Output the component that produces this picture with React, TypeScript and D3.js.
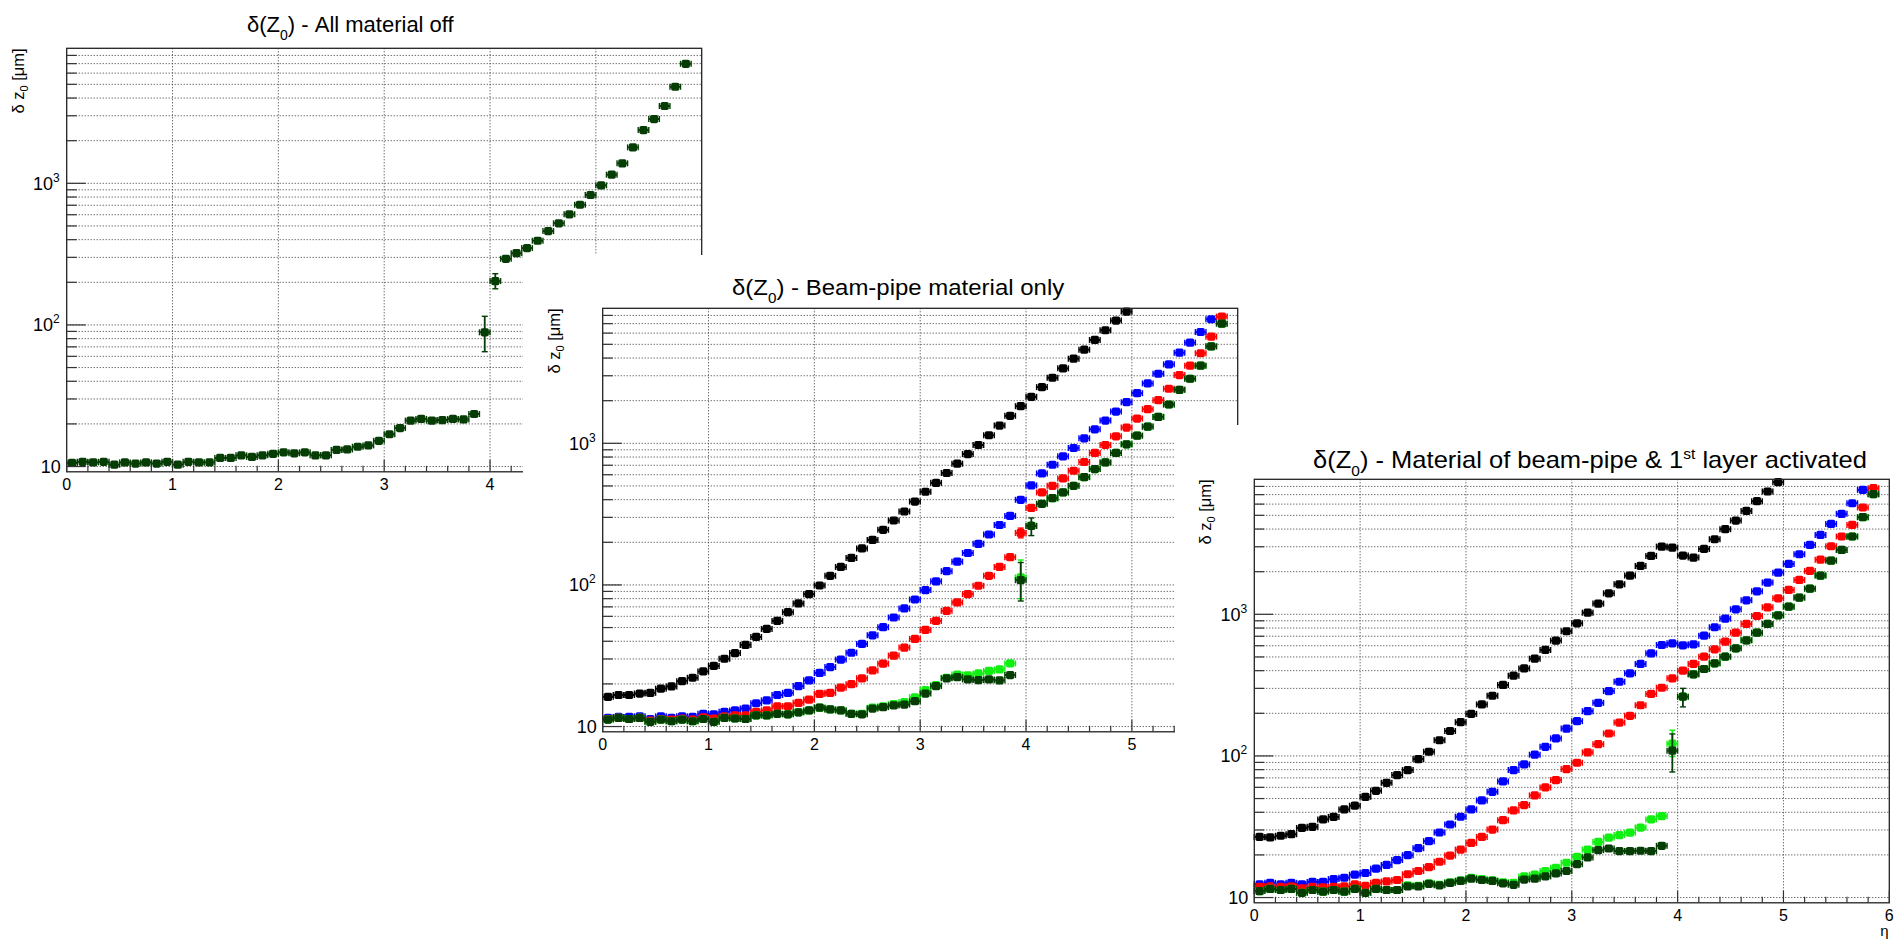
import React from 'react';
import * as d3 from 'd3';

// ---- data (bin centres in eta) ----
const ETA = [0.05,0.15,0.25,0.35,0.45,0.55,0.65,0.75,0.85,0.95,1.05,1.15,1.25,1.35,1.45,1.55,1.65,1.75,1.85,1.95,2.05,2.15,2.25,2.35,2.45,2.55,2.65,2.75,2.85,2.95,3.05,3.15,3.25,3.35,3.45,3.55,3.65,3.75,3.85,3.95,4.05,4.15,4.25,4.35,4.45,4.55,4.65,4.75,4.85,4.95,5.05,5.15,5.25,5.35,5.45,5.55,5.65,5.75,5.85];
const X_TICK_LABELS = ['0','1','2','3','4','5','6'];

// Panel 1 – all material off
const P1_DKGREEN = [10.6,10.8,10.7,10.8,10.3,10.7,10.5,10.7,10.5,10.8, 10.3,10.8,10.7,10.7,11.5,11.5,12.0,11.7,12.0,12.3, 12.6,12.4,12.6,12.0,12.0,13.1,13.2,13.8,14.1,15.2, 16.9,18.7,21.1,21.7,21.1,21.3,21.7,21.5,23.5,88.7, 204,293,321,349,393,460,522,604,706,827, 968,1151,1384,1795,2377,2843,3516,4806,6984];
const P1_DKGREEN_ERR: [number, number, number][] = [[39, 64.7, 115], [40, 180, 230]];

// Panel 2 – beam-pipe material only
const P2_BLACK = [16.2,16.7,16.7,17.1,17.3,18.5,19.2,20.9,22.1,24.5, 26.8,30.1,33.0,37.7,42.9,48.9,55.7,64.2,74.0,86.1, 99.1,116,134,155,181,208,245,285,330,388, 455,526,617,718,840,973,1140,1335,1564,1830, 2130,2494,2904,3383,3958,4582,5370,6287,7362,8517];
const P2_BLUE = [11.5,11.7,11.7,11.8,11.3,11.8,11.5,11.8,11.7,12.3, 12.2,12.7,13.0,13.4,14.6,15.3,16.7,17.3,19.3,21.2, 23.9,26.3,29.7,33.2,38.3,44.1,50.3,58.9,68.2,78.9, 91.9,106,125,146,168,195,227,265,307,399, 504,613,706,809,927,1085,1256,1448,1676,1951, 2260,2648,3100,3610,4365,5140,6112,7520];
const P2_RED = [11.3,11.5,11.3,11.5,11.0,11.3,11.2,11.4,11.2,11.6, 11.4,11.8,12.0,12.0,12.7,13.0,13.9,13.9,14.7,15.5, 17.0,17.3,18.8,19.9,21.9,24.9,27.8,31.7,36.1,41.6, 48.1,55.7,65.6,75.2,86.1,98.7,116,134,157,233, 350,450,501,565,640,738,855,973,1121,1292, 1496,1742,2018,2429,3035,3535,4325,5665,7850];
const P2_RED_ERR: [number, number, number][] = [[39, 215, 252]];
const P2_GREEN = [11.2,11.5,11.3,11.5,10.8,11.2,10.9,11.2,10.9,11.3, 10.8,11.5,11.4,11.3,12.0,12.0,12.3,12.2,12.6,13.0, 13.6,13.2,13.0,12.3,12.3,13.6,13.9,14.4,14.9,16.1, 18.1,19.6,22.1,23.3,23.0,23.7,24.7,25.3,27.9,113, 262,374,410,450,501,577,658,733,855,984, 1133,1312,1537,1880,2388,2858,3535,4840,7000];
const P2_GREEN_ERR: [number, number, number][] = [[39, 80, 150]];
const P2_DKGREEN = [11.2,11.5,11.3,11.5,10.8,11.2,10.9,11.2,10.9,11.3, 10.8,11.5,11.4,11.3,12.0,12.0,12.3,12.2,12.6,13.0, 13.6,13.2,13.0,12.3,12.2,13.4,13.7,14.1,14.3,15.1, 17.1,19.3,21.9,22.3,21.5,21.3,21.5,21.2,23.1,108, 261,374,410,450,501,577,658,733,855,984, 1133,1312,1537,1880,2388,2858,3535,4840,7000];
const P2_DKGREEN_ERR: [number, number, number][] = [[39, 77, 144], [40, 223, 297]];

// Panel 3 – beam-pipe & 1st layer
const P3_BLACK = [26.8,26.6,27.3,28.0,31.0,31.6,35.6,37.1,41.9,44.5, 51.4,56.7,64.6,73.2,79.4,95.0,107,129,150,173, 198,231,266,317,369,415,486,560,652,759, 864,1027,1190,1407,1629,1876,2196,2585,3008,2960, 2600,2514,2895,3390,3990,4593,5375,6290,7366,8575];
const P3_BLUE = [12.4,12.7,12.4,12.7,12.4,12.9,12.9,13.5,13.8,14.5, 14.9,16.0,17.0,18.4,19.9,22.3,25.0,28.8,32.8,37.2, 41.9,48.5,55.8,66.1,79.4,87.1,102,116,133,156, 176,207,237,287,334,383,446,530,607,624, 604,614,707,810,932,1085,1256,1454,1676,1969, 2268,2655,3092,3638,4350,5120,6087,7566];
const P3_RED = [11.9,12.0,11.9,12.0,11.6,11.9,11.8,11.9,12.0,12.4, 12.1,12.7,13.0,13.3,14.6,15.4,16.4,17.9,19.8,21.8, 24.3,26.8,30.2,35.2,41.2,45.0,52.6,59.9,67.5,80.7, 89.5,106,121,144,172,192,228,274,303,353, 400,446,502,566,641,742,855,973,1120,1297, 1486,1748,2024,2433,3025,3543,4279,5680,7770];
const P3_GREEN = [11.1,11.5,11.3,11.5,10.8,11.3,11.0,11.3,11.0,11.5, 10.8,11.5,11.3,11.3,12.2,12.1,12.6,12.3,12.8,13.2, 13.8,13.5,13.2,12.8,12.7,14.1,14.5,15.4,16.2,17.6, 19.4,21.8,24.7,26.5,27.6,28.7,31.2,35.6,37.6,122, 262,377,411,451,502,575,655,742,855,984, 1133,1312,1518,1876,2395,2850,3543,4850,7050];
const P3_GREEN_ERR: [number, number, number][] = [[39, 99, 152]];
const P3_DKGREEN = [11.1,11.5,11.3,11.5,10.8,11.3,11.0,11.3,11.0,11.5, 10.8,11.5,11.3,11.3,12.0,12.0,12.5,12.2,12.7,13.1, 13.6,13.3,13.1,12.6,12.3,13.4,13.6,14.1,14.8,15.4, 17.2,19.2,21.6,22.2,21.3,21.3,21.4,21.3,23.2,109, 262,377,411,451,502,575,655,742,855,984, 1133,1312,1518,1876,2395,2850,3543,4850,7050];
const P3_DKGREEN_ERR: [number, number, number][] = [[39, 77, 143], [40, 222, 300]];

// ---- styling ----
const C_BLACK = '#000000';
const C_BLUE = '#0000ff';
const C_RED = '#ff0000';
const C_GREEN = '#11ee11';
const C_DKGREEN = '#053d05';
const FONT = '"Liberation Sans", Arial, Helvetica, sans-serif';

const FRAME_W = 635;
const FRAME_H = 423.5;
const Y_MIN = 9.18;
const Y_MAX = 8983;
const BIN_HALF = 0.05;

type Series = { color: string; values: number[]; errs?: [number, number, number][] };

type PanelDef = {
  left: number; top: number;
  canvas?: { x: number; y: number };
  titleX: number; titleY: number; titleSize: number; titleScaleX: number;
  title: React.ReactNode;
  series: Series[];
  xLabelCount: number;
  showEta?: boolean;
};

function Panel({ p }: { p: PanelDef }) {
  const x = d3.scaleLinear().domain([0, 6]).range([p.left, p.left + FRAME_W]);
  const y = d3.scaleLog().domain([Y_MIN, Y_MAX]).range([p.top + FRAME_H, p.top]);
  const bottom = p.top + FRAME_H;
  const yGrid = y.ticks().filter((v) => v >= Y_MIN && v <= Y_MAX);
  const majors = [10, 100, 1000];
  const xMinor = d3.range(0, 30).map((i) => i * 0.2).filter((v) => Math.abs(v - Math.round(v)) > 1e-6);
  const xMajor = d3.range(0, 7);
  const mh = 4.1; // marker half-size
  const cap = 3;

  return (
    <g>
      {p.canvas && (
        <rect x={p.canvas.x} y={p.canvas.y} width={2000} height={1000} fill="#fff" />
      )}
      {/* title */}
      <text
        transform={`translate(${p.titleX},${p.titleY}) scale(${p.titleScaleX},1)`}
        fontFamily={FONT} fontSize={p.titleSize} fill="#000"
      >
        {p.title}
      </text>
      {/* grid */}
      <g stroke="#333" strokeWidth={1} strokeDasharray="1 2">
        {yGrid.map((v) => (
          <line key={'gy' + v} x1={p.left} x2={p.left + FRAME_W} y1={y(v)} y2={y(v)} />
        ))}
        {[1, 2, 3, 4, 5].map((v) => (
          <line key={'gx' + v} x1={x(v)} x2={x(v)} y1={p.top} y2={bottom} />
        ))}
      </g>
      {/* data */}
      {p.series.map((s, si) => (
        <g key={'s' + si} stroke={s.color} fill={s.color}>
          {s.values.map((v, i) => {
            const cx = x(ETA[i]);
            const cy = y(v);
            const x0 = x(ETA[i] - BIN_HALF);
            const x1 = x(ETA[i] + BIN_HALF);
            return (
              <g key={i}>
                <line x1={x0} x2={x1} y1={cy} y2={cy} strokeWidth={2} />
                <line x1={x0} x2={x0} y1={cy - cap} y2={cy + cap} strokeWidth={1.4} />
                <line x1={x1} x2={x1} y1={cy - cap} y2={cy + cap} strokeWidth={1.4} />
                <rect x={cx - mh} y={cy - mh} width={2 * mh} height={2 * mh} rx={1.8} stroke="none" />
              </g>
            );
          })}
          {(s.errs || []).map(([i, lo, hi]) => {
            const cx = x(ETA[i]);
            return (
              <g key={'e' + i}>
                <line x1={cx} x2={cx} y1={y(lo)} y2={y(hi)} strokeWidth={1.8} />
                <line x1={cx - cap} x2={cx + cap} y1={y(lo)} y2={y(lo)} strokeWidth={1.4} />
                <line x1={cx - cap} x2={cx + cap} y1={y(hi)} y2={y(hi)} strokeWidth={1.4} />
              </g>
            );
          })}
        </g>
      ))}
      {/* frame */}
      <rect x={p.left} y={p.top} width={FRAME_W} height={FRAME_H} fill="none" stroke="#222" strokeWidth={1.3} />
      {/* ticks */}
      <g stroke="#333" strokeWidth={1.2}>
        {yGrid.map((v) => {
          const isMajor = majors.includes(v);
          return <line key={'ty' + v} x1={p.left} x2={p.left + (isMajor ? 19 : 10)} y1={y(v)} y2={y(v)} />;
        })}
        {xMajor.map((v) => (
          <line key={'tx' + v} x1={x(v)} x2={x(v)} y1={bottom} y2={bottom - 12} />
        ))}
        {xMinor.map((v) => (
          <line key={'tm' + v} x1={x(v)} x2={x(v)} y1={bottom} y2={bottom - 6} />
        ))}
      </g>
      {/* y labels */}
      <g fontFamily={FONT} fill="#000">
        <text x={p.left - 6} y={y(10) + 6.5} fontSize={18} textAnchor="end">10</text>
        <text x={p.left - 7} y={y(100) + 6.5} fontSize={18} textAnchor="end">
          10<tspan fontSize={12} dy={-8}>2</tspan>
        </text>
        <text x={p.left - 7} y={y(1000) + 6.5} fontSize={18} textAnchor="end">
          10<tspan fontSize={12} dy={-8}>3</tspan>
        </text>
      </g>
      {/* x labels */}
      <g fontFamily={FONT} fill="#000" fontSize={16} textAnchor="middle">
        {X_TICK_LABELS.slice(0, p.xLabelCount).map((t, i) => (
          <text key={'xl' + i} x={x(i)} y={bottom + 18}>{t}</text>
        ))}
      </g>
      {/* y title */}
      <text
        transform={`translate(${p.left - 43},${p.top}) rotate(-90)`}
        fontFamily={FONT} fontSize={16.5} textAnchor="end" fill="#000"
      >
        δ z<tspan fontSize={11} dy={4}>0</tspan><tspan dy={-4}> [μm]</tspan>
      </text>
      {p.showEta && (
        <text x={p.left + FRAME_W - 5} y={bottom + 33} fontFamily={FONT} fontSize={15} textAnchor="middle">η</text>
      )}
    </g>
  );
}

const titleZ = (rest: React.ReactNode) => (
  <>
    δ(Z<tspan fontSize={14} dy={8}>0</tspan><tspan dy={-8}>) - </tspan>{rest}
  </>
);

const PANELS: PanelDef[] = [
  {
    left: 66.7, top: 48.3, titleX: 247, titleY: 31.5, titleSize: 22, titleScaleX: 1,
    title: titleZ('All material off'),
    series: [{ color: C_DKGREEN, values: P1_DKGREEN, errs: P1_DKGREEN_ERR }],
    xLabelCount: 5,
  },
  {
    left: 602.7, top: 308.3, canvas: { x: 523, y: 255 }, titleX: 732, titleY: 295, titleSize: 22, titleScaleX: 1.09,
    title: titleZ('Beam-pipe material only'),
    series: [
      { color: C_BLACK, values: P2_BLACK },
      { color: C_BLUE, values: P2_BLUE },
      { color: C_RED, values: P2_RED, errs: P2_RED_ERR },
      { color: C_GREEN, values: P2_GREEN, errs: P2_GREEN_ERR },
      { color: C_DKGREEN, values: P2_DKGREEN, errs: P2_DKGREEN_ERR },
    ],
    xLabelCount: 6,
  },
  {
    left: 1254.3, top: 479.3, canvas: { x: 1175, y: 425 }, titleX: 1313, titleY: 468, titleSize: 23, titleScaleX: 1.11,
    title: titleZ(
      <>
        Material of beam-pipe &amp; 1<tspan fontSize={14} dy={-9}>st</tspan><tspan dy={9}> layer activated</tspan>
      </>
    ),
    series: [
      { color: C_BLACK, values: P3_BLACK },
      { color: C_BLUE, values: P3_BLUE },
      { color: C_RED, values: P3_RED },
      { color: C_GREEN, values: P3_GREEN, errs: P3_GREEN_ERR },
      { color: C_DKGREEN, values: P3_DKGREEN, errs: P3_DKGREEN_ERR },
    ],
    xLabelCount: 7,
    showEta: true,
  },
];

export default function App() {
  return (
    <svg
      width={1897}
      height={939}
      viewBox="0 0 1897 939"
      style={{ position: 'absolute', left: 0, top: 0, background: '#fff' }}
    >
      <rect x={0} y={0} width={1897} height={939} fill="#fff" />
      {PANELS.map((p, i) => (
        <Panel key={i} p={p} />
      ))}
    </svg>
  );
}
